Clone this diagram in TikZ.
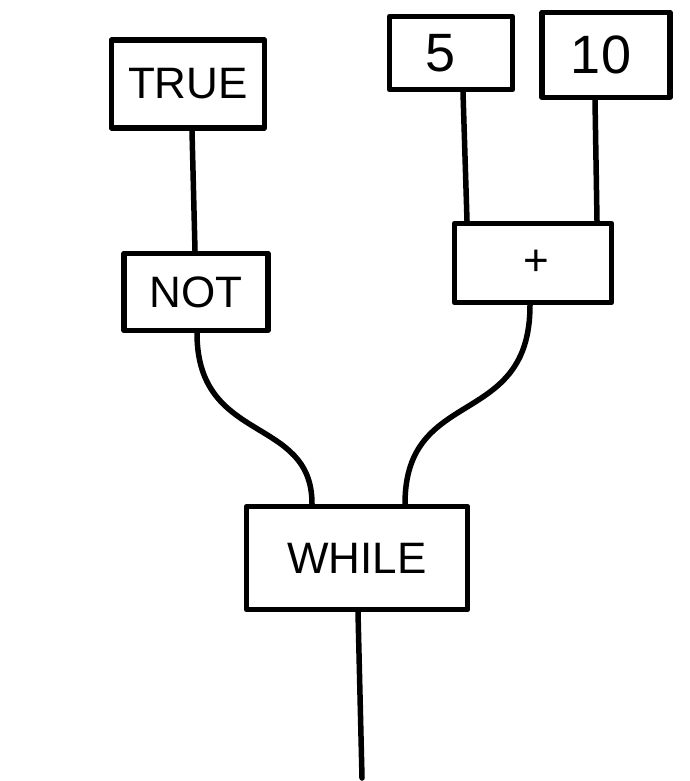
\documentclass[tikz,border=0pt]{standalone}
\usepackage{fontspec}
\setmainfont{Liberation Sans}
\usetikzlibrary{calc}
\begin{document}
\begin{tikzpicture}[x=1pt,y=-1pt,
  line width=5.5pt, line cap=round, line join=round,
  box/.style={draw, rectangle, inner sep=0pt, font=\fontsize{44}{44}\selectfont},
  digits/.style={font=\fontsize{54}{54}\selectfont},
  wire/.style={draw}]
  \useasboundingbox (0,0) rectangle (689,781);

  % operand and operator boxes
  \node[box, minimum width=153pt, minimum height=88pt] (true)  at (188,84)  {TRUE};
  \node[box, digits, minimum width=123pt, minimum height=73pt] (five)  at (451,53)  {\hspace{-20pt}5};
  \node[box, digits, minimum width=128pt, minimum height=85pt] (ten)   at (606,55)  {\hspace{-10pt}10};
  \node[box, minimum width=144pt, minimum height=77pt] (not)   at (196,292) {NOT};
  \node[box, minimum width=157pt, minimum height=79pt] (plus)  at (533,263) {\hspace{6pt}\raisebox{-3pt}{+}};
  \node[box, minimum width=221pt, minimum height=103pt] (while) at (357,558) {WHILE};
  \coordinate (out) at (362,778);

  % straight edges
  \draw[wire] ([xshift=4pt]true.south) -- ([xshift=-1pt]not.north);
  \draw[wire] ([xshift=12pt]five.south) -- ([xshift=-66pt]plus.north);
  \draw[wire] ([xshift=-11pt]ten.south) -- ([xshift=64pt]plus.north);

  % curved edges into the loop node
  \draw[wire] ([xshift=1pt]not.south) .. controls (197,445) and (312,415) .. ([xshift=-45pt]while.north);
  \draw[wire] ([xshift=-3pt]plus.south) .. controls (530,430) and (405,385) .. ([xshift=48pt]while.north);

  % loop body exit
  \draw[wire] ([xshift=1pt]while.south) -- (out);
\end{tikzpicture}
\end{document}
